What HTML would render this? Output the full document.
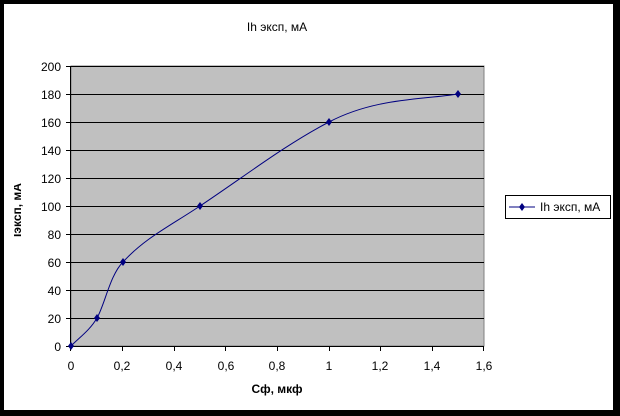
<!DOCTYPE html>
<html><head><meta charset="utf-8"><style>
body{margin:0;background:#000;width:620px;height:416px;overflow:hidden}
svg{display:block}
text{font-family:"Liberation Sans",sans-serif;font-size:12px;fill:#000}
</style></head><body>
<svg width="620" height="416" viewBox="0 0 620 416">
<defs><clipPath id="cl"><rect x="14" y="150" width="20" height="120"/></clipPath></defs>
<rect x="0" y="0" width="620" height="416" fill="#000"/>
<rect x="4" y="4" width="609" height="406" fill="#fff"/>
<rect x="71" y="66" width="413" height="280" fill="#c0c0c0" stroke="#808080" stroke-width="1"/>
<g stroke="#000" stroke-width="1">
<line x1="71" y1="94.5" x2="484" y2="94.5"/><line x1="71" y1="122.5" x2="484" y2="122.5"/>
<line x1="71" y1="150.5" x2="484" y2="150.5"/><line x1="71" y1="178.5" x2="484" y2="178.5"/>
<line x1="71" y1="206.5" x2="484" y2="206.5"/><line x1="71" y1="234.5" x2="484" y2="234.5"/>
<line x1="71" y1="262.5" x2="484" y2="262.5"/><line x1="71" y1="290.5" x2="484" y2="290.5"/>
<line x1="71" y1="318.5" x2="484" y2="318.5"/><line x1="71" y1="66.5" x2="484" y2="66.5"/>
<line x1="70.5" y1="66" x2="70.5" y2="346"/><line x1="71" y1="346.5" x2="484" y2="346.5"/>
</g>
<g stroke="#000">
<line x1="66" y1="66.5" x2="71" y2="66.5"/><line x1="66" y1="94.5" x2="71" y2="94.5"/><line x1="66" y1="122.5" x2="71" y2="122.5"/><line x1="66" y1="150.5" x2="71" y2="150.5"/><line x1="66" y1="178.5" x2="71" y2="178.5"/><line x1="66" y1="206.5" x2="71" y2="206.5"/><line x1="66" y1="234.5" x2="71" y2="234.5"/><line x1="66" y1="262.5" x2="71" y2="262.5"/><line x1="66" y1="290.5" x2="71" y2="290.5"/><line x1="66" y1="318.5" x2="71" y2="318.5"/><line x1="66" y1="346.5" x2="71" y2="346.5"/>
<line x1="70.5" y1="346" x2="70.5" y2="351"/><line x1="122.5" y1="346" x2="122.5" y2="351"/><line x1="174.5" y1="346" x2="174.5" y2="351"/><line x1="225.5" y1="346" x2="225.5" y2="351"/><line x1="277.5" y1="346" x2="277.5" y2="351"/><line x1="329.5" y1="346" x2="329.5" y2="351"/><line x1="380.5" y1="346" x2="380.5" y2="351"/><line x1="432.5" y1="346" x2="432.5" y2="351"/><line x1="483.5" y1="346" x2="483.5" y2="351"/>
</g>
<g text-anchor="end">
<text x="61" y="71">200</text><text x="61" y="99">180</text><text x="61" y="127">160</text><text x="61" y="155">140</text><text x="61" y="183">120</text><text x="61" y="211">100</text><text x="61" y="239">80</text><text x="61" y="267">60</text><text x="61" y="295">40</text><text x="61" y="323">20</text><text x="61" y="351">0</text>
</g>
<g text-anchor="middle">
<text x="71" y="370">0</text><text x="122" y="370">0,2</text><text x="174" y="370">0,4</text><text x="226" y="370">0,6</text><text x="277" y="370">0,8</text><text x="329" y="370">1</text><text x="380" y="370">1,2</text><text x="432" y="370">1,4</text><text x="484" y="370">1,6</text>
<text x="277" y="31">Ih эксп, мА</text>
<text x="277" y="393" font-weight="bold">Cф, мкф</text>
<g clip-path="url(#cl)"><text x="0" y="0" font-weight="bold" transform="translate(21,210) rotate(-90)">Iэксп, мА</text></g>
</g>
<path d="M71,346 C80,337 90,330 97,318 C105,304 110,275 123,262 C145,238 170,226 200,206 C245,176 285,145 329,122 C375,98 420,100 458,94" fill="none" stroke="#000080" stroke-width="1"/>
<g fill="#000080">
<path d="M71,342 l3,4 -3,4 -3,-4z"/><path d="M97,314 l3,4 -3,4 -3,-4z"/><path d="M123,258 l3,4 -3,4 -3,-4z"/><path d="M200,202 l3,4 -3,4 -3,-4z"/><path d="M329,118 l3,4 -3,4 -3,-4z"/><path d="M458,90 l3,4 -3,4 -3,-4z"/>
</g>
<rect x="505.5" y="195.5" width="105" height="23" fill="#fff" stroke="#000"/>
<line x1="509" y1="207" x2="535" y2="207" stroke="#000080"/>
<path d="M522,203 l3,4 -3,4 -3,-4z" fill="#000080"/>
<text x="540" y="211">Ih эксп, мА</text>
</svg>
</body></html>
